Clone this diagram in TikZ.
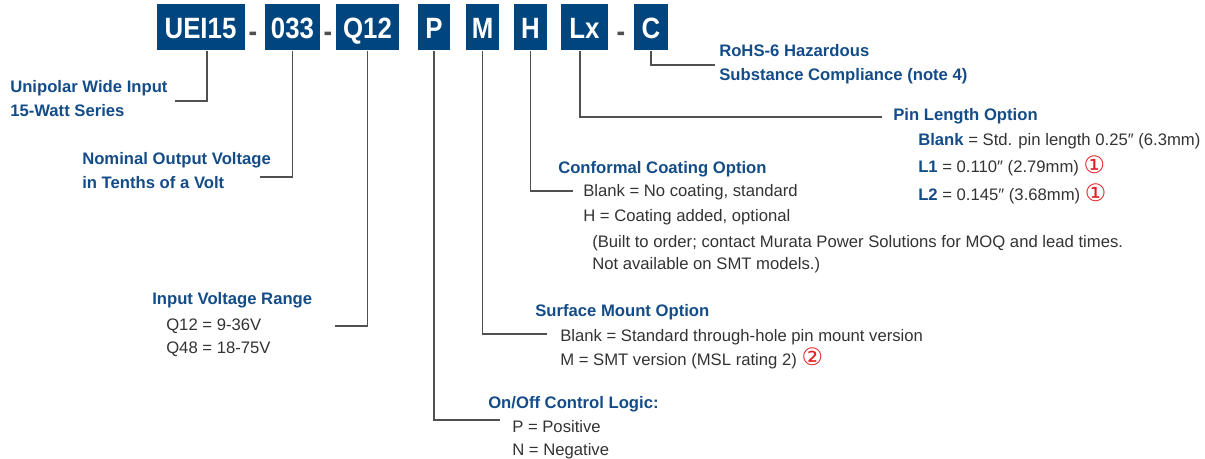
\documentclass[tikz,border=0pt]{standalone}
\usepackage{fontspec}
\setmainfont{Liberation Sans}
\newfontfamily\boxfont{Liberation Sans}[FakeStretch=0.88]
\newfontfamily\symfont{DejaVu Sans}
\usetikzlibrary{positioning}
\definecolor{codeblue}{RGB}{0,69,126}
\definecolor{titleblue}{RGB}{20,76,136}
\definecolor{bodygray}{RGB}{51,51,51}
\definecolor{leadgray}{RGB}{80,80,80}
\definecolor{notered}{RGB}{228,30,38}
\newcommand{\notemark}[1]{{\symfont\fontsize{18}{18}\selectfont\color{notered}\raisebox{-0.6pt}{#1}}}
\tikzset{ % global config
    x=0.75pt, y=-0.75pt, % one unit is one pixel of the reference
    codebox/.style={fill=codeblue, text=white, inner sep=0pt, minimum height=34.5pt,
        minimum width=#1*0.75pt, text height=15.8pt, text depth=0pt,
        font=\boxfont\bfseries\fontsize{22}{22}\selectfont},
    dashmark/.style={anchor=base, inner sep=0pt, text=leadgray,
        font=\boxfont\bfseries\fontsize{22}{22}\selectfont},
    title/.style={anchor=base west, inner sep=0pt, text=titleblue,
        font=\bfseries\fontsize{12.5}{15}\selectfont},
    entry/.style={anchor=base west, inner sep=0pt, text=bodygray,
        font=\fontsize{12.5}{15}\selectfont},
    lead/.style={draw=leadgray, line width=1.1pt},
}

\begin{document}
\begin{tikzpicture}
    \useasboundingbox (0,0) rectangle (1205,459);

    % part number code
    \node[codebox=88] (uei) at (200.5,27.5) {UEI15};
    \node[dashmark] (d1) at (253,41.5) {-};
    \node[codebox=55] (vout) at (292.5,27.5) {033};
    \node[dashmark] (d2) at (328,41.5) {-};
    \node[codebox=63] (vin) at (367.5,27.5) {Q12};
    \node[codebox=32] (onoff) at (434,27.5) {P};
    \node[codebox=33] (smt) at (482.5,27.5) {M};
    \node[codebox=33] (coat) at (530.5,27.5) {H};
    \node[codebox=47] (pin) at (584.5,27.5) {Lx};
    \node[dashmark] (d3) at (621,41.5) {-};
    \node[codebox=34] (rohs) at (651,27.5) {C};

    % descriptions
    \node[title] (ueiA) at (10,93) {Unipolar Wide Input};
    \node[title] (ueiB) at (10,117) {15-Watt Series};

    \node[title] (voutA) at (82,165) {Nominal Output Voltage};
    \node[title] (voutB) at (82,189) {in Tenths of a Volt};

    \node[title] (vinA) at (152,305) {Input Voltage Range};
    \node[entry] (vinB) at (166,330) {Q12 = 9-36V};
    \node[entry] (vinC) at (166,353) {Q48 = 18-75V};

    \node[title] (onoffA) at (488,408) {On/Off Control Logic:};
    \node[entry] (onoffB) at (512,432) {P = Positive};
    \node[entry] (onoffC) at (512,455) {N = Negative};

    \node[title] (smtA) at (535,316) {Surface Mount Option};
    \node[entry] (smtB) at (560,341) {Blank = Standard through-hole pin mount version};
    \node[entry] (smtC) at (560,365) {M = SMT version (MSL rating 2) \notemark{②}};

    \node[title] (coatA) at (558,174) {Conformal Coating Option};
    \node[entry] (coatB) at (583,197) {Blank = No coating, standard};
    \node[entry] (coatC) at (583,222) {H = Coating added, optional};
    \node[entry] (coatD) at (592,248) {(Built to order; contact Murata Power Solutions for MOQ and lead times.};
    \node[entry] (coatE) at (592,270) {Not available on SMT models.)};

    \node[title] (pinA) at (893,121) {Pin Length Option};
    \node[entry] (pinB) at (918,146) {\textcolor{titleblue}{\bfseries Blank} = Std. pin length 0.25″ (6.3mm)};
    \node[entry] (pinC) at (918,173) {\textcolor{titleblue}{\bfseries L1} = 0.110″ (2.79mm) \notemark{①}};
    \node[entry] (pinD) at (918,201) {\textcolor{titleblue}{\bfseries L2} = 0.145″ (3.68mm) \notemark{①}};

    \node[title] (rohsA) at (719,57) {RoHS-6 Hazardous};
    \node[title] (rohsB) at (719,81) {Substance Compliance (note 4)};

    % leader lines
    \coordinate (ueiEnd) at (175,101);
    \coordinate (voutEnd) at (260,177);
    \coordinate (vinEnd) at (335,326);
    \coordinate (onoffEnd) at (500,420);
    \coordinate (smtEnd) at (547,334);
    \coordinate (coatEnd) at (573,191);
    \coordinate (pinEnd) at (882,117);
    \coordinate (rohsEnd) at (715,65);
    \draw[lead] ([xshift=4.9pt]uei.south) |- (ueiEnd);
    \draw[lead] (vout.south) |- (voutEnd);
    \draw[lead] (vin.south) |- (vinEnd);
    \draw[lead] (onoff.south) |- (onoffEnd);
    \draw[lead] (smt.south) |- (smtEnd);
    \draw[lead] (coat.south) |- (coatEnd);
    \draw[lead] ([xshift=-3.4pt]pin.south) |- (pinEnd);
    \draw[lead] (rohs.south) |- (rohsEnd);

\end{tikzpicture}
\end{document}
